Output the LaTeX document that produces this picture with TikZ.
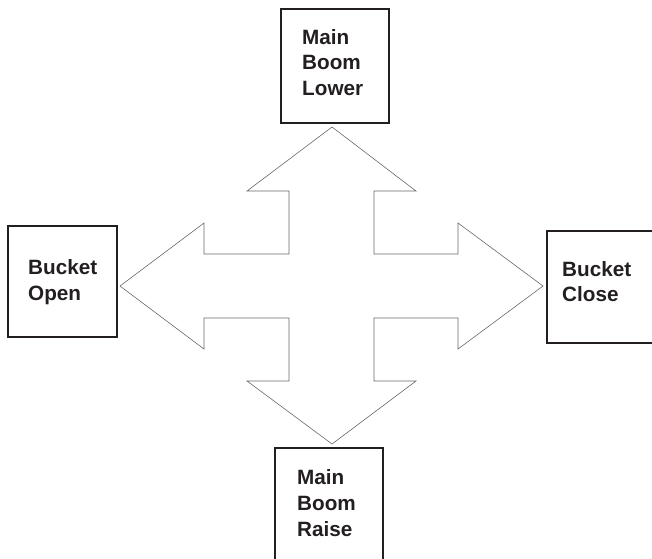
\documentclass[tikz,border=0pt]{standalone}
\usepackage{fontspec}
\setmainfont{Liberation Sans}
\definecolor{boxline}{HTML}{231F20}
\definecolor{arrowline}{HTML}{6A6A6A}
\tikzset{
  box/.style={draw=boxline, line width=2.6pt, rectangle, inner sep=0pt},
  lbl/.style={anchor=west, inner sep=0pt, align=left, text=boxline,
    font=\fontsize{20.7pt}{25.7pt}\selectfont\bfseries},
  cross/.style={draw=arrowline, line width=0.6pt, fill=white, line join=miter}
}
\begin{document}
\begin{tikzpicture}[x=1pt,y=-1pt]
\useasboundingbox (0,0) rectangle (652,558);
\clip (0,0) rectangle (652,558);
% boxes
\node[box, minimum width=108pt, minimum height=114pt] (topbox) at (335,66) {};
\node[box, minimum width=109pt, minimum height=111pt] (leftbox) at (62.5,281.5) {};
\node[box, minimum width=123pt, minimum height=112pt] (rightbox) at (608.5,287) {};
\node[box, minimum width=108pt, minimum height=122pt] (botbox) at (329,509) {};
% labels
\node[lbl] (toptext) at (302,62.5) {Main\\Boom\\Lower};
\node[lbl] (lefttext) at (28,281.8) {Bucket\\Open};
\node[lbl] (righttext) at (562,281.6) {Bucket\\Close};
\node[lbl] (bottext) at (297,503) {Main\\Boom\\Raise};
% four-way arrow
\draw[cross] (332,127) -- (416,191) -- (374,191) -- (374,254) -- (458,254)
  -- (458,223) -- (543,286) -- (458,349) -- (458,318) -- (374,318)
  -- (374,381) -- (416,381) -- (332,444) -- (247,381) -- (289,381)
  -- (289,318) -- (204,318) -- (204,349) -- (120,286) -- (204,223)
  -- (204,254) -- (289,254) -- (289,191) -- (247,191) -- cycle;
\end{tikzpicture}
\end{document}
